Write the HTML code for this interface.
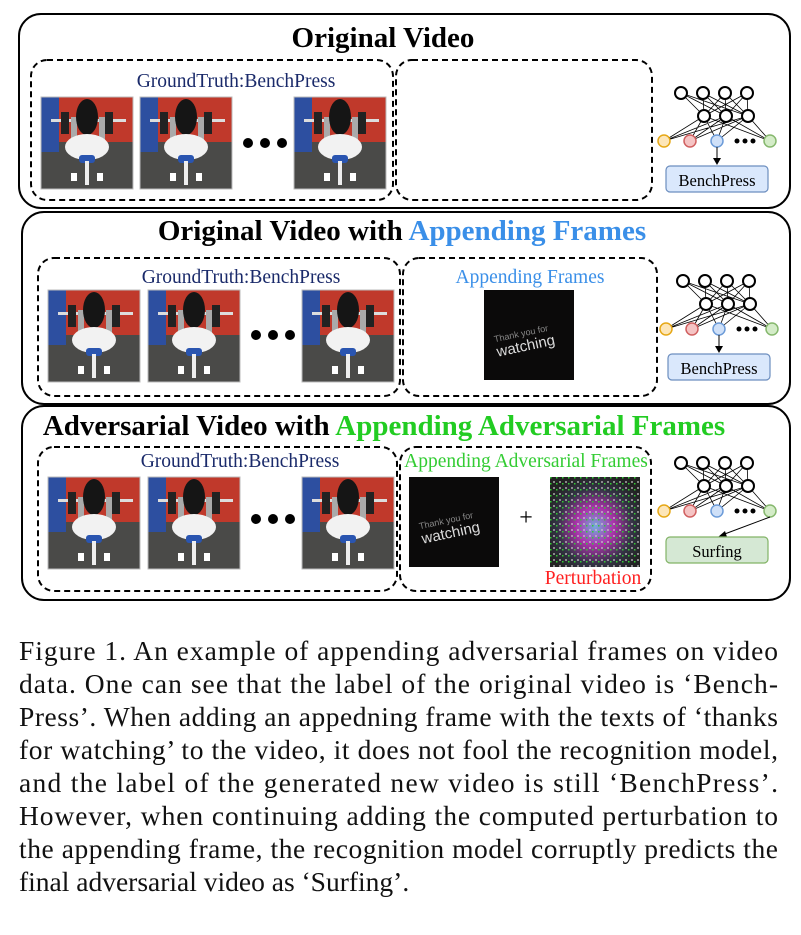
<!DOCTYPE html>
<html><head><meta charset="utf-8"><style>
html,body{margin:0;padding:0;background:#fff;}
svg{display:block;font-family:"Liberation Serif",serif;}
</style></head><body>
<svg width="801" height="935" viewBox="0 0 801 935" xmlns="http://www.w3.org/2000/svg">
<defs>
<g id="frame">
  <rect x="0" y="0" width="92" height="92" fill="#4a4a48"/>
  <rect x="0" y="0" width="92" height="45" fill="#c0392b"/>
  <rect x="0" y="0" width="18" height="55" fill="#2d4fa0"/>
  <rect x="10" y="22" width="75" height="3" fill="#ddd"/>
  <rect x="20" y="15" width="8" height="22" fill="#222"/>
  <rect x="64" y="15" width="8" height="22" fill="#222"/>
  <rect x="30" y="20" width="6" height="25" fill="#aaa"/>
  <rect x="58" y="20" width="6" height="25" fill="#aaa"/>
  <ellipse cx="46" cy="20" rx="11" ry="18" fill="#151515"/>
  <ellipse cx="46" cy="50" rx="22" ry="13" fill="#f2f2f2"/>
  <rect x="38" y="58" width="16" height="8" rx="3" fill="#2a55b0"/>
  <rect x="44" y="64" width="4" height="24" fill="#eee"/>
  <rect x="30" y="76" width="6" height="8" fill="#fff"/>
  <rect x="56" y="76" width="6" height="8" fill="#fff"/>
  <rect x="0" y="0" width="92" height="92" fill="none" stroke="#bbb" stroke-width="1"/>
</g>
<g id="thank">
  <rect x="0" y="0" width="90" height="90" fill="#0b0a0a"/>
  <text x="10" y="45" font-family="Liberation Sans,sans-serif" font-size="9" fill="#888" transform="rotate(-12 45 45)">Thank you for</text>
  <text x="12" y="60" font-family="Liberation Sans,sans-serif" font-size="15" fill="#ddd" transform="rotate(-12 45 55)">watching</text>
</g>
<g id="net" stroke="#000" stroke-width="1" fill="none">
  <g stroke-width="0.8">
    <path d="M681 93L704 116M681 93L726 116M681 93L748 116M703 93L704 116M703 93L726 116M703 93L748 116M725 93L704 116M725 93L726 116M725 93L748 116M747 93L704 116M747 93L726 116M747 93L748 116"/>
    <path d="M704 116L664 141M704 116L690 141M704 116L717 141M704 116L770 141M726 116L664 141M726 116L690 141M726 116L717 141M726 116L770 141M748 116L664 141M748 116L690 141M748 116L717 141M748 116L770 141"/>
  </g>
  <g fill="#fff" stroke-width="2">
    <circle cx="681" cy="93" r="6"/><circle cx="703" cy="93" r="6"/><circle cx="725" cy="93" r="6"/><circle cx="747" cy="93" r="6"/>
    <circle cx="704" cy="116" r="6"/><circle cx="726" cy="116" r="6"/><circle cx="748" cy="116" r="6"/>
  </g>
  <circle cx="664" cy="141" r="6" fill="#fde6b8" stroke="#e6a817" stroke-width="1.5"/>
  <circle cx="690" cy="141" r="6" fill="#f5c4c4" stroke="#d06060" stroke-width="1.5"/>
  <circle cx="717" cy="141" r="6" fill="#cfe0f8" stroke="#6c9bd8" stroke-width="1.5"/>
  <circle cx="770" cy="141" r="6" fill="#d4ecc8" stroke="#86b86e" stroke-width="1.5"/>
  <g fill="#000" stroke="none"><circle cx="737" cy="141" r="2.5"/><circle cx="745" cy="141" r="2.5"/><circle cx="753" cy="141" r="2.5"/></g>
</g>
<radialGradient id="pg" cx="0.5" cy="0.55" r="0.6">
  <stop offset="0" stop-color="#7ad"/><stop offset="0.35" stop-color="#a3a"/><stop offset="0.7" stop-color="#334"/><stop offset="1" stop-color="#222"/>
</radialGradient>
<pattern id="pp" width="6" height="6" patternUnits="userSpaceOnUse">
  <rect width="6" height="6" fill="none"/><rect x="1" y="1" width="2" height="2" fill="#ccc" opacity="0.6"/><rect x="4" y="3" width="1.5" height="1.5" fill="#3c3"/>
</pattern>
</defs>

<!-- Panel 1 -->
<rect x="19" y="14" width="771" height="194" rx="22" fill="none" stroke="#000" stroke-width="2"/>
<text x="383" y="47" text-anchor="middle" font-size="29" font-weight="bold">Original Video</text>
<rect x="31" y="60" width="362" height="140" rx="16" fill="none" stroke="#000" stroke-width="2" stroke-dasharray="6,4"/>
<rect x="396" y="60" width="256" height="140" rx="16" fill="none" stroke="#000" stroke-width="2" stroke-dasharray="6,4"/>
<text x="236" y="87" text-anchor="middle" font-size="19.5" fill="#1a2a6a">GroundTruth:BenchPress</text>
<use href="#frame" x="41" y="97"/><use href="#frame" x="140" y="97"/><use href="#frame" x="294" y="97"/>
<g fill="#000"><circle cx="248" cy="143" r="5"/><circle cx="265" cy="143" r="5"/><circle cx="282" cy="143" r="5"/></g>
<use href="#net"/>
<path d="M717 147V160" stroke="#000" stroke-width="1"/><path d="M713 158L717 165L721 158Z" fill="#000"/>
<rect x="666" y="166" width="102" height="26" rx="4" fill="#dae8fc" stroke="#6c8ebf" stroke-width="1.2"/>
<text x="717" y="186" text-anchor="middle" font-size="16.5">BenchPress</text>

<!-- Panel 2 -->
<rect x="22" y="212" width="768" height="192" rx="22" fill="none" stroke="#000" stroke-width="2"/>
<text x="402" y="240" text-anchor="middle" font-size="29" font-weight="bold">Original Video with <tspan fill="#3a8fe8">Appending Frames</tspan></text>
<rect x="38" y="258" width="362" height="138" rx="16" fill="none" stroke="#000" stroke-width="2" stroke-dasharray="6,4"/>
<rect x="403" y="258" width="254" height="138" rx="16" fill="none" stroke="#000" stroke-width="2" stroke-dasharray="6,4"/>
<text x="241" y="283" text-anchor="middle" font-size="19.5" fill="#1a2a6a">GroundTruth:BenchPress</text>
<text x="530" y="283" text-anchor="middle" font-size="19.5" fill="#3a8fe8">Appending Frames</text>
<use href="#frame" x="48" y="290"/><use href="#frame" x="148" y="290"/><use href="#frame" x="302" y="290"/>
<g fill="#000"><circle cx="256" cy="335" r="5"/><circle cx="273" cy="335" r="5"/><circle cx="290" cy="335" r="5"/></g>
<use href="#thank" x="484" y="290"/>
<use href="#net" x="2" y="188"/>
<path d="M719 335V348" stroke="#000" stroke-width="1"/><path d="M715 346L719 353L723 346Z" fill="#000"/>
<rect x="668" y="354" width="102" height="26" rx="4" fill="#dae8fc" stroke="#6c8ebf" stroke-width="1.2"/>
<text x="719" y="374" text-anchor="middle" font-size="16.5">BenchPress</text>

<!-- Panel 3 -->
<rect x="22" y="406" width="768" height="194" rx="22" fill="none" stroke="#000" stroke-width="2"/>
<text x="384" y="435" text-anchor="middle" font-size="29" font-weight="bold">Adversarial Video with <tspan fill="#22cc22">Appending Adversarial Frames</tspan></text>
<rect x="38" y="447" width="359" height="144" rx="16" fill="none" stroke="#000" stroke-width="2" stroke-dasharray="6,4"/>
<rect x="400" y="447" width="251" height="144" rx="16" fill="none" stroke="#000" stroke-width="2" stroke-dasharray="6,4"/>
<text x="240" y="467" text-anchor="middle" font-size="19.5" fill="#1a2a6a">GroundTruth:BenchPress</text>
<text x="526" y="467" text-anchor="middle" font-size="19.5" fill="#33cc33">Appending Adversarial Frames</text>
<use href="#frame" x="48" y="477"/><use href="#frame" x="148" y="477"/><use href="#frame" x="302" y="477"/>
<g fill="#000"><circle cx="256" cy="519" r="5"/><circle cx="273" cy="519" r="5"/><circle cx="290" cy="519" r="5"/></g>
<use href="#thank" x="409" y="477"/>
<text x="526" y="525" text-anchor="middle" font-size="24">+</text>
<rect x="550" y="477" width="90" height="90" fill="url(#pg)"/>
<rect x="550" y="477" width="90" height="90" fill="url(#pp)"/>
<text x="593" y="584" text-anchor="middle" font-size="19.5" fill="#ff2020">Perturbation</text>
<use href="#net" x="0" y="370"/>
<path d="M770 517L722 535" stroke="#000" stroke-width="1"/><path d="M718 537L725 531L727 537Z" fill="#000"/>
<rect x="666" y="537" width="102" height="26" rx="4" fill="#d5e8d4" stroke="#82b366" stroke-width="1.2"/>
<text x="717" y="557" text-anchor="middle" font-size="16.5">Surfing</text>

<!-- Caption -->
<g font-size="27.5" fill="#111">
<text x="19" y="660" textLength="759" lengthAdjust="spacing">Figure 1. An example of appending adversarial frames on video</text>
<text x="19" y="693" textLength="759" lengthAdjust="spacing">data.  One can see that the label of the original video is ‘Bench-</text>
<text x="19" y="726" textLength="759" lengthAdjust="spacing">Press’. When adding an appedning frame with the texts of ‘thanks</text>
<text x="19" y="759" textLength="759" lengthAdjust="spacing">for watching’ to the video, it does not fool the recognition model,</text>
<text x="19" y="792" textLength="759" lengthAdjust="spacing">and the label of the generated new video is still ‘BenchPress’.</text>
<text x="19" y="825" textLength="759" lengthAdjust="spacing">However, when continuing adding the computed perturbation to</text>
<text x="19" y="858" textLength="759" lengthAdjust="spacing">the appending frame, the recognition model corruptly predicts the</text>
<text x="19" y="891">final adversarial video as ‘Surfing’.</text>
</g>
</svg>
</body></html>
